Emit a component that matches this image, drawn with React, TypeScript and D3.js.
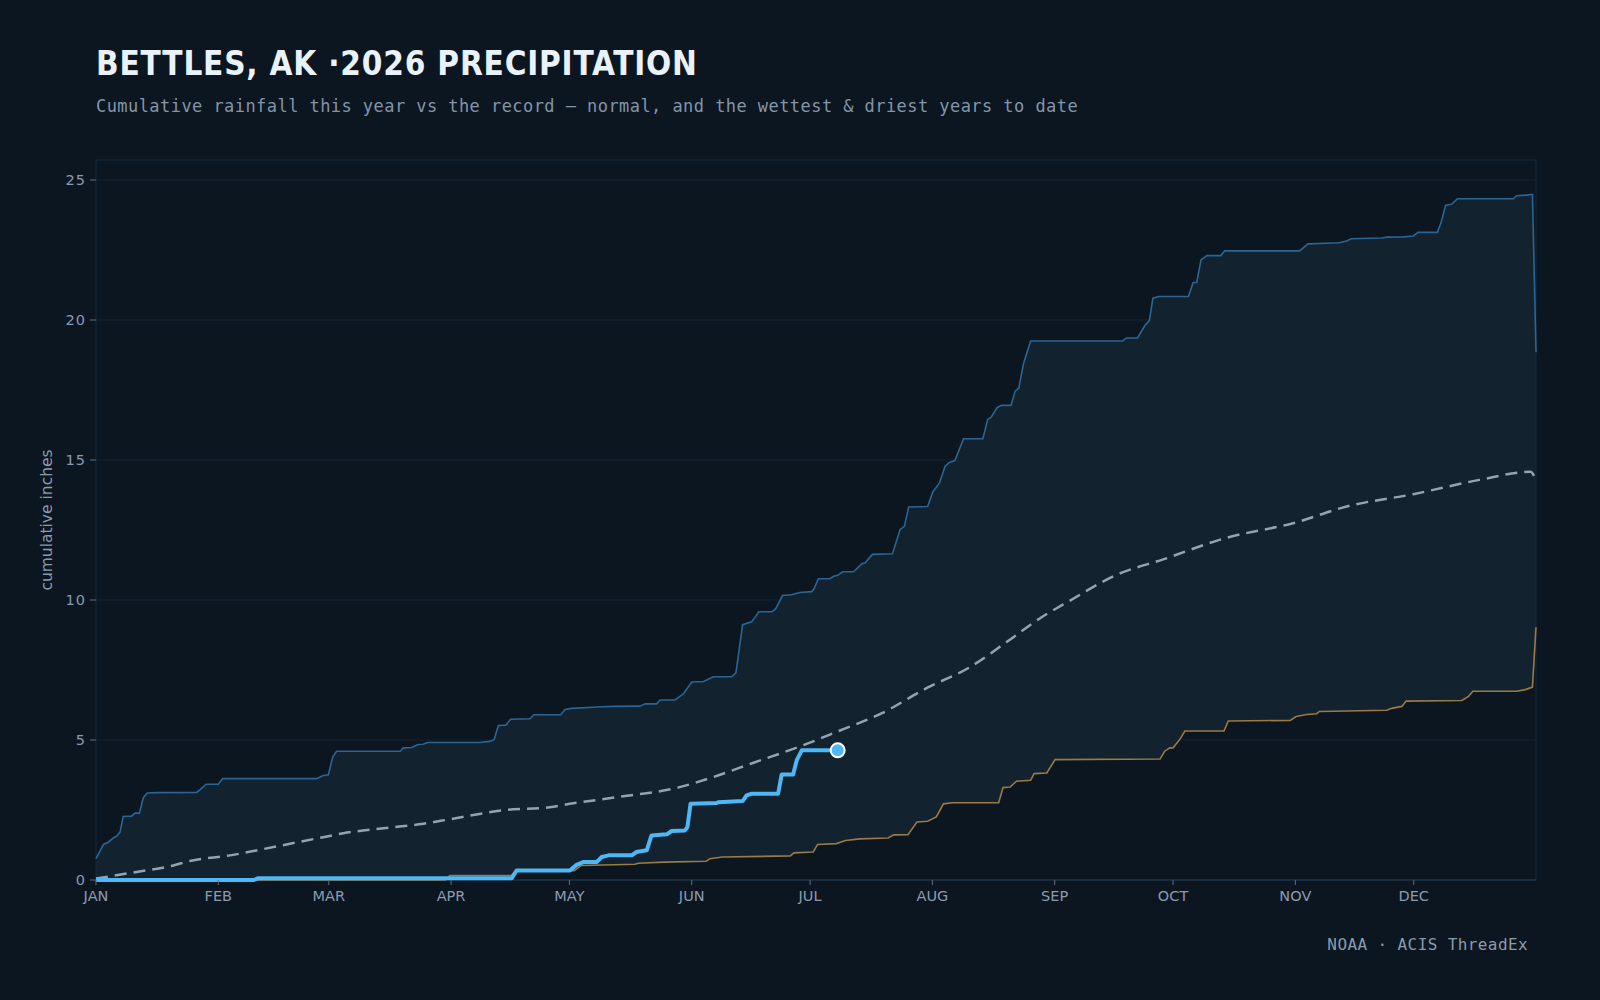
import React from 'react';
import * as d3 from 'd3';

// [day of year, cumulative inches]
const wettest: [number, number][] = [
  [0, 0.76], [1.9, 1.27], [3.1, 1.35], [4.4, 1.5], [5.2, 1.56], [6.1, 1.71], [6.9, 2.27], [9, 2.28],
  [9.9, 2.39], [11, 2.39], [12, 2.94], [13, 3.11], [15.4, 3.12], [25.5, 3.13], [26.4, 3.23], [27.9, 3.42],
  [31, 3.42], [32.1, 3.62], [55.9, 3.62], [57.6, 3.73], [58.9, 3.76], [60, 4.39], [61, 4.6], [77.1, 4.6],
  [77.9, 4.72], [80, 4.73], [81.7, 4.84], [82.9, 4.85], [84, 4.91], [97.3, 4.91], [99.8, 4.95], [100.9, 5.01],
  [102, 5.52], [103.9, 5.53], [105.1, 5.74], [110, 5.76], [111, 5.9], [117.8, 5.9], [118.9, 6.09], [120.6, 6.13],
  [127, 6.18], [131, 6.2], [137.9, 6.21], [139.2, 6.29], [142.1, 6.29], [143, 6.43], [146.8, 6.43], [148.9, 6.65],
  [151, 7.07], [154, 7.09], [156.5, 7.26], [161.1, 7.26], [162.2, 7.4], [163.9, 9.12], [166.2, 9.22], [167, 9.37],
  [168, 9.58], [171.3, 9.58], [172.3, 9.69], [174, 10.16], [176.3, 10.19], [178.4, 10.27], [181.4, 10.3], [182, 10.4],
  [183.1, 10.76], [186, 10.76], [187, 10.85], [188, 10.88], [189.3, 11.01], [192, 11.01], [194.2, 11.3], [194.9, 11.32],
  [196.8, 11.63], [201.9, 11.65], [203.8, 12.51], [204.9, 12.63], [206, 13.32], [210.8, 13.34], [212.1, 13.86],
  [213.8, 14.18], [215.2, 14.77], [216.3, 14.91], [217.7, 14.98], [219.9, 15.76], [224.8, 15.76], [226, 16.44],
  [226.9, 16.53], [228.4, 16.87], [229.5, 16.95], [231.9, 16.95], [233, 17.46], [233.9, 17.57], [235.1, 18.44],
  [236.9, 19.25], [260.2, 19.25], [261.2, 19.36], [264, 19.36], [265.9, 19.81], [267, 19.98], [267.9, 20.78],
  [269.4, 20.84], [276.9, 20.84], [278.1, 21.34], [279, 21.34], [280.1, 22.15], [281.6, 22.3], [285.1, 22.3],
  [286.1, 22.47], [305.1, 22.47], [307.2, 22.72], [315.1, 22.76], [317, 22.82], [318.2, 22.9], [325.9, 22.93],
  [327.3, 22.96], [331.5, 22.97], [333.9, 23.0], [335.1, 23.13], [340, 23.13], [340.9, 23.46], [342.1, 24.1],
  [343.6, 24.13], [345.1, 24.33], [359.2, 24.33], [360.1, 24.44], [362.5, 24.46], [364.1, 24.49], [365, 18.85],
];

const driest: [number, number][] = [
  [0, 0], [88.5, 0], [89.7, 0.16], [105.2, 0.16], [106.4, 0.33], [121.2, 0.33], [123, 0.52], [136.6, 0.56],
  [137.5, 0.6], [143.9, 0.64], [154.7, 0.67], [155.6, 0.76], [158.8, 0.82], [176, 0.86], [176.9, 0.97], [181.8, 1.0],
  [182.9, 1.27], [187.7, 1.3], [190, 1.41], [193.6, 1.47], [200.8, 1.5], [202.2, 1.61], [205.8, 1.62], [208.1, 2.07],
  [210.8, 2.1], [213, 2.25], [214.8, 2.72], [217.1, 2.76], [228.8, 2.76], [229.9, 3.3], [231.7, 3.32], [233.3, 3.53],
  [236.9, 3.56], [237.8, 3.8], [241, 3.82], [243.1, 4.3], [269.7, 4.32], [270.9, 4.6], [272.2, 4.72], [273, 4.72],
  [274.8, 5.04], [276, 5.32], [285.9, 5.32], [287, 5.68], [302.7, 5.7], [304.2, 5.84], [306.9, 5.91], [309.4, 5.94],
  [310.1, 6.02], [327.2, 6.06], [328.4, 6.13], [331, 6.2], [332.1, 6.39], [346.2, 6.41], [347.9, 6.56], [349, 6.74],
  [360.1, 6.74], [362.3, 6.8], [364.1, 6.89], [365, 9.03],
];

const normal: [number, number][] = [
  [0, 0.05], [9.9, 0.28], [19.6, 0.52], [23.8, 0.68], [34, 0.88], [45.8, 1.2], [57.6, 1.53], [62.7, 1.67],
  [74.5, 1.87], [83, 2.01], [89.7, 2.17], [103.3, 2.49], [115, 2.6], [120.1, 2.72], [132.1, 2.96], [147.5, 3.3],
  [156.5, 3.68], [166.5, 4.18], [179.2, 4.81], [188.2, 5.32], [199.1, 5.95], [210.5, 6.85], [221.5, 7.6],
  [230.8, 8.5], [239.3, 9.35], [246.9, 9.98], [258.7, 10.9], [270.5, 11.45], [286, 12.2], [303.9, 12.76],
  [317, 13.34], [333.9, 13.78], [350.7, 14.29], [363.6, 14.58], [365, 14.27],
];

const current: [number, number][] = [
  [0, 0], [40, 0], [41, 0.06], [105.4, 0.06], [106.6, 0.34], [120.1, 0.34], [121.8, 0.54], [123.5, 0.64],
  [126.9, 0.64], [128.2, 0.82], [129.9, 0.88], [135.8, 0.88], [137, 1.0], [139.6, 1.06], [140.8, 1.59],
  [144.7, 1.63], [145.9, 1.75], [149.3, 1.77], [149.9, 1.89], [150.7, 2.72], [157.3, 2.75], [157.7, 2.78],
  [163.9, 2.82], [164.9, 3.02], [166.2, 3.08], [172.9, 3.08], [173.8, 3.77], [176.7, 3.77], [177.6, 4.27],
  [178.9, 4.63], [188, 4.63],
];

const monthLabels = ['JAN', 'FEB', 'MAR', 'APR', 'MAY', 'JUN', 'JUL', 'AUG', 'SEP', 'OCT', 'NOV', 'DEC'];
const monthStarts = [0, 31, 59, 90, 120, 151, 181, 212, 243, 273, 304, 334];
const yTicks = [0, 5, 10, 15, 20, 25];

const W = 1600;
const H = 1000;
const margin = { top: 160, right: 64, bottom: 120, left: 96 };

const sans = "'DejaVu Sans', sans-serif";
const mono = "'DejaVu Sans Mono', monospace";

const App = () => {
  const x = d3.scaleLinear().domain([0, 365]).range([margin.left, W - margin.right]);
  const yMax = (d3.max(wettest, d => d[1]) || 0) * 1.05;
  const y = d3.scaleLinear().domain([0, yMax]).range([H - margin.bottom, margin.top]);

  const line = d3.line<[number, number]>().x(d => x(d[0])).y(d => y(d[1]));
  const smooth = d3.line<[number, number]>().x(d => x(d[0])).y(d => y(d[1])).curve(d3.curveMonotoneX);

  // record envelope: wettest forward, driest back
  const band = line([...wettest, ...driest.slice().reverse()]) + 'Z';

  const last = current[current.length - 1];
  const plotBottom = H - margin.bottom;

  return (
    <>
      <style>{`body{margin:0;background:#0c1620}`}</style>
      <svg width={W} height={H} style={{ display: 'block', background: '#0c1620' }}>
        <text x={margin.left} y={75} fill="#e9f2f9" fontFamily="'DejaVu Sans Condensed', 'DejaVu Sans', sans-serif"
          fontStretch="condensed" fontWeight="bold" fontSize={33} letterSpacing={0.8}>
          BETTLES, AK ·2026 PRECIPITATION
        </text>
        <text x={margin.left} y={112} fill="#8395a8" fontFamily={mono} fontSize={17} letterSpacing={0.44}>
          Cumulative rainfall this year vs the record — normal, and the wettest &amp; driest years to date
        </text>

        {yTicks.map(t => (
          <line key={'g' + t} x1={margin.left} x2={W - margin.right} y1={y(t)} y2={y(t)} stroke="#14222e" strokeWidth={1} />
        ))}

        <path d={band} fill="#12222f" />

        <rect x={margin.left} y={margin.top} width={W - margin.left - margin.right}
          height={H - margin.top - margin.bottom} fill="none" stroke="#17293a" strokeWidth={1.2} />
        <line x1={margin.left} x2={W - margin.right} y1={plotBottom} y2={plotBottom} stroke="#1c3246" strokeWidth={1.5} />

        <path d={line(wettest) || ''} fill="none" stroke="#2b6596" strokeWidth={1.6} />
        <path d={line(driest) || ''} fill="none" stroke="#9a7a45" strokeWidth={1.6} />
        <path d={smooth(normal) || ''} fill="none" stroke="#93a3b2" strokeWidth={2.5} strokeDasharray="12 7" />
        <path d={line(current) || ''} fill="none" stroke="#4db8f5" strokeWidth={4} strokeLinejoin="round" />
        <circle cx={x(last[0])} cy={y(last[1])} r={7} fill="#4db8f5" stroke="#ffffff" strokeWidth={2} />

        {yTicks.map(t => (
          <g key={'y' + t} transform={`translate(${margin.left},${y(t)})`}>
            <line x1={-6} x2={0} stroke="#5d6e80" />
            <text x={-10} dy="0.35em" textAnchor="end" fill="#8a9bb0" fontFamily={sans} fontSize={14.5} letterSpacing={1}>
              {t}
            </text>
          </g>
        ))}

        {monthStarts.map((d, i) => (
          <g key={monthLabels[i]} transform={`translate(${x(d)},${plotBottom})`}>
            <line y1={0} y2={5} stroke="#5d6e80" />
            <text y={21} textAnchor="middle" fill="#8a9bb0" fontFamily={sans} fontSize={14.5}>
              {monthLabels[i]}
            </text>
          </g>
        ))}

        <text transform={`translate(52,${(margin.top + plotBottom) / 2}) rotate(-90)`} textAnchor="middle"
          fill="#8a9bb0" fontFamily={sans} fontSize={15.5}>
          cumulative inches
        </text>

        <text x={1528} y={950} textAnchor="end" fill="#8a9bac" fontFamily={mono} fontSize={16} letterSpacing={0.4}>
          NOAA · ACIS ThreadEx
        </text>
      </svg>
    </>
  );
};

export default App;
